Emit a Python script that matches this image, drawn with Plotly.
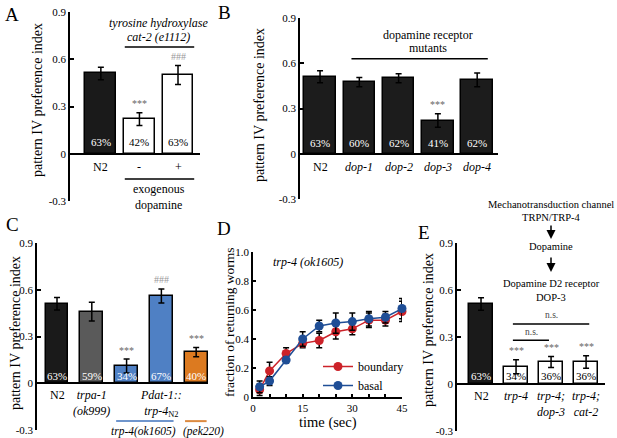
import plotly.graph_objects as go

W, H = 617, 438
FONT = "Liberation Serif, serif"

# ---- panel A : cat-2 with / without exogenous dopamine
a_labels = ["N2", "-", "+"]
a_vals = [0.51, 0.22, 0.50]
a_err = [0.04, 0.04, 0.06]
a_pct = ["63%", "42%", "63%"]
a_sig = ["", "***", "###"]
a_colors = ["#1a1a1a", "white", "white"]

# ---- panel B : dopamine receptor mutants
b_labels = ["N2", "<i>dop-1</i>", "<i>dop-2</i>", "<i>dop-3</i>", "<i>dop-4</i>"]
b_vals = [0.51, 0.475, 0.50, 0.22, 0.49]
b_err = [0.04, 0.03, 0.03, 0.045, 0.045]
b_pct = ["63%", "60%", "62%", "41%", "62%"]
b_sig = ["", "", "", "***", ""]

# ---- panel C : trp-4 / trpa-1 / pek220
c_labels = ["N2", "<i>trpa-1</i><br><i>(ok999)</i>", "",
            "<i>Pdat-1::</i><br><i>trp-4</i><sub>N2</sub>", ""]
c_vals = [0.51, 0.46, 0.11, 0.56, 0.20]
c_err = [0.04, 0.06, 0.045, 0.045, 0.03]
c_pct = ["63%", "59%", "34%", "67%", "40%"]
c_sig = ["", "", "***", "###", "***"]
c_colors = ["#1a1a1a", "#5a5a5a", "#4f80c4", "#4f80c4", "#dc7a20"]

# ---- panel D : fraction of returning worms, trp-4 (ok1605)
d_time = [2, 5, 10, 15, 20, 25, 30, 35, 40, 45]
d_boundary = [0.05, 0.18, 0.30, 0.37, 0.39, 0.45, 0.47, 0.53, 0.53, 0.59]
d_boundary_err = [0.04, 0.06, 0.04, 0.03, 0.05, 0.05, 0.04, 0.05, 0.04, 0.07]
d_basal = [0.07, 0.11, 0.255, 0.40, 0.49, 0.51, 0.52, 0.54, 0.55, 0.61]
d_basal_err = [0.04, 0.03, 0.02, 0.05, 0.04, 0.07, 0.06, 0.05, 0.04, 0.07]

# ---- panel E : trp-4 double mutants
e_labels = ["N2", "<i>trp-4</i>", "<i>trp-4;</i><br><i>dop-3</i>", "<i>trp-4;</i><br><i>cat-2</i>"]
e_vals = [0.51, 0.11, 0.14, 0.14]
e_err = [0.04, 0.045, 0.035, 0.04]
e_pct = ["63%", "34%", "36%", "36%"]
e_sig = ["", "***", "***", "***"]
e_colors = ["#1a1a1a", "white", "white", "white"]


def px(x):
    return x / W


def py(y):
    return 1 - y / H


fig = go.Figure()
annotations = []
shapes = []


def ann(text, x, y, xref="paper", yref="paper", size=12, color="black", **kw):
    d = dict(text=text, x=x, y=y, xref=xref, yref=yref, showarrow=False,
             xanchor="center", yanchor="middle",
             font=dict(family=FONT, size=size, color=color))
    d.update(kw)
    annotations.append(d)


def hline(x0, x1, y, xref, yref, color="black", width=1.5):
    shapes.append(dict(type="line", x0=x0, x1=x1, y0=y, y1=y, xref=xref, yref=yref,
                       line=dict(color=color, width=width)))


def bar_panel(n, labels, vals, errs, pct, sig, colors, width, pct_y, label_y):
    xs = list(range(len(vals)))
    xr, yr = ("x%d" % n if n > 1 else "x"), ("y%d" % n if n > 1 else "y")
    fig.add_trace(go.Bar(
        x=xs, y=vals, width=width, xaxis=xr, yaxis=yr, showlegend=False,
        marker=dict(color=colors, line=dict(color="black", width=1.5)),
        error_y=dict(type="data", array=errs, color="black", thickness=1.5, width=3),
    ))
    for i in xs:
        dark = colors[i] != "white"
        ann(pct[i], i, pct_y, xr, yr, size=11, color="white" if dark else "black")
        if labels[i]:
            ann(labels[i], i, label_y, xr, yr, size=12, yanchor="top")
        if sig[i]:
            ann(sig[i], i, vals[i] + errs[i] + 0.01, xr, yr, size=10,
                color="#999999" if sig[i] == "###" else "#666666", yanchor="bottom")


bar_panel(1, a_labels, a_vals, a_err, a_pct, a_sig, a_colors, 0.8, 0.077, -0.03)
bar_panel(2, b_labels, b_vals, b_err, b_pct, b_sig, ["#1c1c1c"] * 5, 0.8, 0.073, -0.03)
bar_panel(3, c_labels, c_vals, c_err, c_pct, c_sig, c_colors, 0.66, 0.045, -0.02)
bar_panel(5, e_labels, e_vals, e_err, e_pct, e_sig, e_colors, 0.69, 0.05, -0.02)

# panel D lines
fig.add_trace(go.Scatter(
    x=d_time, y=d_boundary, name="boundary", mode="lines+markers", xaxis="x4", yaxis="y4",
    line=dict(color="#cc2229", width=1.5), marker=dict(size=9, color="#cc2229"),
    error_y=dict(type="data", array=d_boundary_err, color="black", thickness=1.5, width=3),
    cliponaxis=False,
))
fig.add_trace(go.Scatter(
    x=d_time, y=d_basal, name="basal", mode="lines+markers", xaxis="x4", yaxis="y4",
    line=dict(color="#1f4e96", width=1.5), marker=dict(size=9, color="#1f4e96"),
    error_y=dict(type="data", array=d_basal_err, color="black", thickness=1.5, width=3),
    cliponaxis=False,
))

# ---- extra text / lines
# A
ann("<i>tyrosine hydroxylase</i>", 1.5, 0.83, "x", "y")
ann("<i>cat-2 (e1112)</i>", 1.5, 0.74, "x", "y")
hline(0.62, 2.42, 0.677, "x", "y")
hline(0.62, 2.42, -0.16, "x", "y")
ann("exogenous<br>dopamine", 1.5, py(197), "x", "paper", size=12)
# B
ann("dopamine receptor", 2.75, 0.79, "x2", "y2")
ann("mutants", 2.75, 0.70, "x2", "y2")
hline(0.8, 4.27, 0.63, "x2", "y2")
# C
hline(1.7, 3.35, -0.243, "x3", "y3", color="#6f95cc", width=2)
hline(3.68, 4.3, -0.243, "x3", "y3", color="#dc8a40", width=2)
ann("<i>trp-4(ok1605)</i>", 2.5, py(431), "x3", "paper", size=11.5)
ann("<i>(pek220)</i>", 4.22, py(431), "x3", "paper", size=11.5)
# D
ann("<i>trp-4 (ok1605)</i>", 5.5, 0.93, "x4", "y4", xanchor="left")
ann("time (sec)", px(328), py(422), size=14.5)
# E
hline(0.91, 1.94, 0.28, "x5", "y5")
hline(0.91, 3.09, 0.383, "x5", "y5")
ann("n.s.", 1.43, 0.29, "x5", "y5", size=9.5, color="#444444", yanchor="bottom")
ann("n.s.", 2.0, 0.393, "x5", "y5", size=9.5, color="#444444", yanchor="bottom")
ann("Mechanotransduction channel", px(551), py(204), size=10.5)
ann("TRPN/TRP-4", px(551), py(218), size=10.5)
ann("Dopamine", px(551), py(246), size=10.5)
ann("Dopamine D2 receptor", px(551), py(283), size=10.5)
ann("DOP-3", px(551), py(297), size=10.5)
for y0, y1 in [(224, 239), (256, 272)]:
    annotations.append(dict(x=px(551), y=py(y1), ax=0, ay=-(y1 - y0), xref="paper", yref="paper",
                            axref="pixel", ayref="pixel", text="", showarrow=True,
                            arrowhead=2, arrowsize=1.2, arrowwidth=1.5, arrowcolor="black"))

# y-axis titles
for x, y, t, s in [(37, 100, "pattern IV preference index", 14),
                   (260, 105, "pattern IV preference index", 14),
                   (15, 333, "pattern IV preference index", 14),
                   (229, 322, "fraction of returning worms", 13.5),
                   (428, 330, "pattern IV preference index", 14)]:
    ann(t, px(x), py(y), size=s, textangle=-90)

# panel letters
for t, x, y in [("A", 12, 14), ("B", 224, 12), ("C", 12, 224), ("D", 224, 228), ("E", 424, 232)]:
    ann(t, px(x), py(y), size=19)

bar_y = dict(range=[-0.3, 0.9], tickvals=[-0.3, 0, 0.3, 0.6, 0.9],
             ticktext=["-0.3", "0", "0.3", "0.6", "0.9"], ticks="inside", ticklen=4,
             tickwidth=1.5, tickcolor="black", showline=True, linecolor="black", linewidth=1.5,
             zeroline=True, zerolinecolor="black", zerolinewidth=1.5, showgrid=False,
             tickfont=dict(family=FONT, size=11), automargin=False)
hidden_x = dict(showline=False, showgrid=False, zeroline=False, showticklabels=False, ticks="",
                automargin=False)

fig.update_layout(
    width=W, height=H, margin=dict(l=0, r=0, t=0, b=0, pad=0, autoexpand=False),
    plot_bgcolor="white", paper_bgcolor="white",
    font=dict(family=FONT, color="black"),
    bargap=0,
    xaxis=dict(domain=[px(70), px(200)], range=[-0.8, 2.57], anchor="y", **hidden_x),
    yaxis=dict(domain=[py(201), py(12)], anchor="x", **bar_y),
    xaxis2=dict(domain=[px(300), px(498)], range=[-0.51, 4.53], anchor="y2", **hidden_x),
    yaxis2=dict(domain=[py(199), py(18)], anchor="x2", **bar_y),
    xaxis3=dict(domain=[px(37), px(208)], range=[-0.575, 4.34], anchor="y3", **hidden_x),
    yaxis3=dict(domain=[py(430), py(243)], anchor="x3", **bar_y),
    xaxis4=dict(domain=[px(253), px(402)], range=[0, 45], anchor="y4",
                tickvals=list(range(0, 46, 5)),
                ticktext=["0", "", "", "15", "", "", "30", "", "", "45"],
                ticks="inside", ticklen=3, tickwidth=1.5, tickcolor="black",
                showline=True, linecolor="black", linewidth=1.5, showgrid=False, zeroline=False,
                tickfont=dict(family=FONT, size=11), automargin=False),
    yaxis4=dict(domain=[py(397), py(252)], range=[0, 1.0], anchor="x4",
                tickvals=[0, 0.2, 0.4, 0.6, 0.8, 1.0],
                ticktext=["0", "0.2", "0.4", "0.6", "0.8", "1.0"],
                ticks="inside", ticklen=3, tickwidth=1.5, tickcolor="black",
                showline=True, linecolor="black", linewidth=1.5, showgrid=False, zeroline=False,
                tickfont=dict(family=FONT, size=11), automargin=False),
    xaxis5=dict(domain=[px(457), px(605)], range=[-0.686, 3.54], anchor="y5", **hidden_x),
    yaxis5=dict(domain=[py(431), py(243)], anchor="x5", **bar_y),
    legend=dict(x=px(318), y=py(352), xanchor="left", yanchor="top",
                bgcolor="rgba(0,0,0,0)", font=dict(family=FONT, size=12),
                tracegroupgap=0),
    annotations=annotations,
    shapes=shapes,
)

# the page body has a default 8px margin; drop it so the figure sits at the window corner
fig.write_html("out.html", config={"displayModeBar": False},
               post_script="document.body.style.margin='0px';")
